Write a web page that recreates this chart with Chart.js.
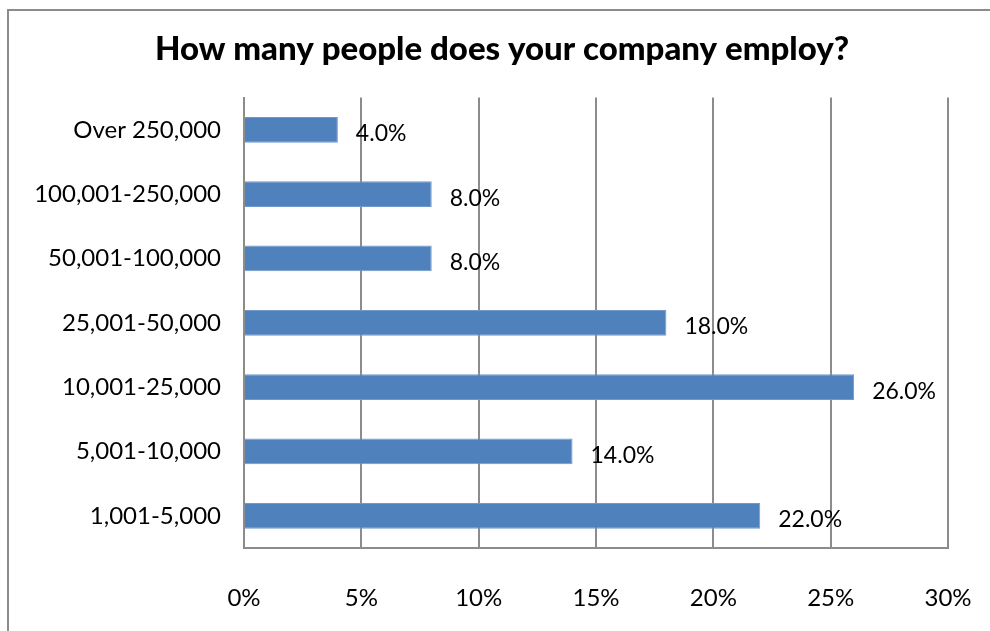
<!DOCTYPE html>
<html><head><meta charset="utf-8">
<script src="https://cdn.jsdelivr.net/npm/chart.js@4/dist/chart.umd.min.js"></script>
<style>
html,body{margin:0;padding:0;background:#fff;overflow:hidden;}
#wrap{position:relative;width:990px;height:631px;overflow:hidden;}
#frame{position:absolute;left:7px;top:9px;width:1100px;height:700px;border:2px solid #8c8c8c;box-sizing:border-box;pointer-events:none;}
canvas{position:absolute;left:0;top:0;}
</style></head>
<body>
<div id="wrap"><canvas id="c" width="990" height="631"></canvas><div id="frame"></div></div>
<script>
const categories = ["Over 250,000","100,001-250,000","50,001-100,000","25,001-50,000","10,001-25,000","5,001-10,000","1,001-5,000"];
const values = [4.0, 8.0, 8.0, 18.0, 26.0, 14.0, 22.0];
const xTicks = [0, 5, 10, 15, 20, 25, 30];
const titleText = "How many people does your company employ?";

const FONT = "Lato, 'Open Sans', sans-serif";

const labelPlugin = {
  id: 'barLabels',
  afterDatasetsDraw(chart) {
    const ctx = chart.ctx;
    const meta = chart.getDatasetMeta(0);
    ctx.save();
    ctx.font = "23px " + FONT;
    ctx.fillStyle = "#000";
    ctx.textAlign = "left";
    ctx.textBaseline = "middle";
    meta.data.forEach((bar, i) => {
      ctx.fillText(values[i].toFixed(1) + "%", bar.x + 18, bar.y + 4);
    });
    ctx.restore();
  }
};

new Chart(document.getElementById('c'), {
  type: 'bar',
  data: {
    labels: categories,
    datasets: [{
      data: values,
      backgroundColor: '#4F81BD',
      borderColor: '#7199cc',
      borderWidth: 1,
      barPercentage: 0.4,
      categoryPercentage: 1.0
    }]
  },
  options: {
    indexAxis: 'y',
    responsive: false,
    animation: false,
    layout: { padding: { left: 14, right: 0, top: 0, bottom: 0 } },
    plugins: {
      legend: { display: false },
      tooltip: { enabled: false },
      title: {
        display: true,
        text: titleText,
        color: '#000',
        font: { family: FONT, size: 33, weight: '900' },
        padding: { top: 30, bottom: 28 }
      }
    },
    scales: {
      x: {
        min: 0, max: 30,
        afterBuildTicks(scale) { scale.ticks = xTicks.map(v => ({ value: v })); },
        afterFit(scale) { scale.height = 83; scale.paddingLeft = 0; scale.paddingRight = 0; },
        ticks: {
          callback: v => v + '%',
          color: '#000',
          font: { family: FONT, size: 24 },
          padding: 36,
          maxRotation: 0
        },
        grid: { color: '#8c8c8c', lineWidth: 2, drawTicks: false },
        border: { color: '#8c8c8c', width: 2 }
      },
      y: {
        afterFit(scale) { scale.width = 230; scale.paddingTop = 0; scale.paddingBottom = 0; },
        ticks: {
          color: '#000',
          font: { family: FONT, size: 24 },
          padding: 23
        },
        grid: { display: false, drawTicks: false },
        border: { color: '#8c8c8c', width: 2 }
      },
      ySpacer: {
        type: 'category',
        position: 'right',
        axis: 'y',
        afterFit(scale) { scale.width = 42; scale.paddingTop = 0; scale.paddingBottom = 0; },
        ticks: { display: false },
        grid: { display: false, drawTicks: false },
        border: { display: false }
      }
    }
  },
  plugins: [labelPlugin]
});
</script>
</body></html>
